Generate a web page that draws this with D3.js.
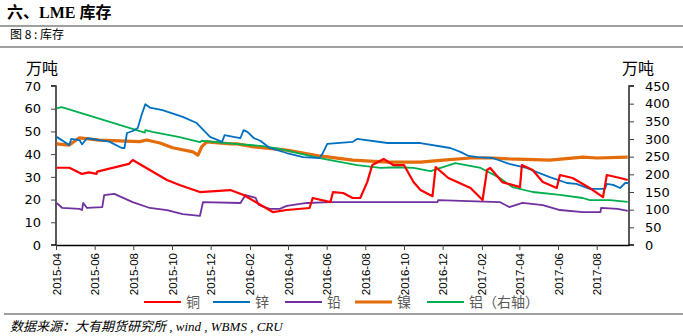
<!DOCTYPE html>
<html><head><meta charset="utf-8">
<script src="https://cdn.jsdelivr.net/npm/d3@7"></script>
<style>body{margin:0;background:#fff}svg{display:block}</style>
</head><body>
<svg id="c" width="683" height="336"></svg>
<script>
const leftTicks = [0,10,20,30,40,50,60,70];
const rightTicks = [0,50,100,150,200,250,300,350,400,450];
const xTickLabels = ["2015-04","2015-06","2015-08","2015-10","2015-12","2016-02","2016-04","2016-06","2016-08","2016-10","2016-12","2017-02","2017-04","2017-06","2017-08"];
const seriesNames = ["铜","锌","铅","镍","铝（右轴）"];

const copper = [["2015-04-02",34.0],["2015-04-22",34.0],["2015-05-12",31.3],["2015-05-23",32.0],["2015-06-04",31.3],["2015-06-05",32.3],["2015-07-25",35.7],["2015-07-31",37.4],["2015-08-27",33.0],["2015-09-23",28.6],["2015-10-13",26.4],["2015-11-14",23.3],["2016-01-01",24.2],["2016-01-22",22.0],["2016-02-18",17.6],["2016-03-08",14.5],["2016-03-30",15.4],["2016-05-05",16.3],["2016-05-10",20.7],["2016-06-07",18.9],["2016-06-11",23.3],["2016-06-27",22.9],["2016-07-12",20.7],["2016-07-24",20.7],["2016-08-04",27.7],["2016-08-12",35.2],["2016-08-30",37.9],["2016-09-14",35.2],["2016-10-01",35.2],["2016-10-16",27.7],["2016-10-27",24.2],["2016-11-15",21.5],["2016-11-20",34.3],["2016-12-10",29.5],["2017-01-14",25.1],["2017-02-02",19.8],["2017-02-09",33.0],["2017-02-14",33.9],["2017-03-05",27.7],["2017-04-02",25.5],["2017-04-05",35.2],["2017-04-22",33.0],["2017-05-08",27.7],["2017-05-30",25.1],["2017-06-04",30.8],["2017-06-24",29.5],["2017-07-21",25.1],["2017-08-11",21.1],["2017-08-17",30.8],["2017-09-07",29.5],["2017-09-19",28.6]];

const zinc = [["2015-04-02",47.6],["2015-04-22",44.0],["2015-04-25",46.7],["2015-05-08",46.2],["2015-05-12",44.3],["2015-05-20",47.0],["2015-06-24",45.5],["2015-07-13",42.8],["2015-07-18",42.7],["2015-07-22",49.3],["2015-07-31",50.2],["2015-08-08",51.5],["2015-08-14",57.2],["2015-08-20",62.0],["2015-08-27",60.5],["2015-09-16",59.4],["2015-10-18",56.4],["2015-11-09",53.7],["2015-11-30",47.6],["2015-12-19",45.4],["2015-12-23",48.4],["2016-01-06",47.6],["2016-01-17",47.1],["2016-01-22",50.6],["2016-01-28",49.8],["2016-02-07",47.1],["2016-02-18",45.8],["2016-03-03",42.7],["2016-03-30",40.5],["2016-04-25",38.7],["2016-05-21",38.3],["2016-05-26",40.5],["2016-06-02",44.5],["2016-07-12",45.4],["2016-07-19",46.7],["2016-09-05",44.9],["2016-10-27",44.9],["2016-12-13",42.7],["2016-12-29",41.0],["2017-01-11",39.2],["2017-01-25",38.7],["2017-02-18",38.3],["2017-03-16",35.7],["2017-04-12",33.9],["2017-05-19",29.9],["2017-06-15",27.3],["2017-06-30",26.9],["2017-07-21",24.7],["2017-08-14",24.7],["2017-08-17",26.9],["2017-08-27",26.5],["2017-09-07",25.1],["2017-09-15",27.3],["2017-09-20",27.3]];

const lead = [["2015-04-02",18.5],["2015-04-11",16.3],["2015-05-08",15.9],["2015-05-12",15.4],["2015-05-14",18.5],["2015-05-20",16.3],["2015-06-13",16.7],["2015-06-16",22.0],["2015-07-02",22.5],["2015-07-31",18.9],["2015-08-27",16.3],["2015-09-23",15.4],["2015-10-18",13.6],["2015-11-14",12.8],["2015-11-19",18.9],["2016-01-17",18.5],["2016-01-25",22.0],["2016-02-10",20.7],["2016-02-15",17.6],["2016-03-03",15.9],["2016-03-19",15.9],["2016-03-30",17.2],["2016-05-01",18.5],["2016-06-07",18.9],["2016-11-23",18.9],["2016-11-24",19.8],["2017-03-01",18.9],["2017-03-16",16.7],["2017-04-06",18.5],["2017-05-08",17.6],["2017-06-04",15.4],["2017-07-10",14.5],["2017-08-07",14.5],["2017-08-08",16.3],["2017-09-03",15.9],["2017-09-19",15.0]];

const nickel = [["2015-04-02",44.5],["2015-04-22",44.0],["2015-05-08",47.2],["2015-06-08",46.2],["2015-08-11",45.5],["2015-08-22",46.2],["2015-09-12",44.9],["2015-10-02",42.8],["2015-11-03",41.0],["2015-11-11",39.6],["2015-11-17",43.3],["2015-11-25",45.4],["2016-01-01",44.5],["2016-01-12",44.5],["2016-02-07",43.2],["2016-03-30",41.8],["2016-05-21",39.2],["2016-07-12",37.4],["2016-09-05",36.5],["2016-10-27",36.5],["2016-12-02",37.4],["2017-01-14",38.3],["2017-02-18",38.3],["2017-03-16",37.9],["2017-05-19",37.4],["2017-07-10",38.7],["2017-08-02",38.3],["2017-09-19",38.7]];

const aluminum = [["2015-04-02",387],["2015-04-10",390],["2015-08-19",318],["2015-08-20",325],["2015-08-31",320],["2015-10-13",305],["2015-11-14",291],["2015-11-17",295],["2015-12-20",289],["2016-02-22",280],["2016-03-19",272],["2016-05-21",246],["2016-07-19",226],["2016-08-25",218],["2016-09-21",220],["2016-10-16",218],["2016-11-12",209],["2016-12-21",232],["2017-01-30",218],["2017-03-01",190],["2017-03-21",164],["2017-04-22",150],["2017-06-04",142],["2017-07-10",133],["2017-07-21",127],["2017-08-22",127],["2017-09-19",122]];

const parse = d3.timeParse("%Y-%m-%d");
const svg = d3.select("#c");
const L = 56, R = 629, T = 86, B = 245;
const x = d3.scaleTime().domain([parse("2015-04-01"), parse("2017-09-21")]).range([L, R]);
const yL = d3.scaleLinear().domain([0,70]).range([B,T]);
const yR = d3.scaleLinear().domain([0,450]).range([B,T]);

// header
svg.append("text").attr("x",7).attr("y",18).attr("font-family","'Liberation Serif','Noto Sans CJK SC',serif").attr("font-weight","bold").attr("font-size",16).text("六、LME 库存");
svg.append("line").attr("x1",0).attr("x2",683).attr("y1",26).attr("y2",26).attr("stroke","#7f7f7f").attr("stroke-width",1.5);
svg.append("text").attr("x",10).attr("y",39).attr("font-family","'Noto Sans CJK SC',sans-serif").attr("font-size",12).text("图 8 : 库存");
svg.append("line").attr("x1",0).attr("x2",683).attr("y1",47).attr("y2",47).attr("stroke","#7f7f7f").attr("stroke-width",1.5);

// units
svg.append("text").attr("x",26).attr("y",74).attr("font-family","'Noto Sans CJK SC',sans-serif").attr("font-size",16).text("万吨");
svg.append("text").attr("x",622).attr("y",74).attr("font-family","'Noto Sans CJK SC',sans-serif").attr("font-size",16).text("万吨");

// axes
const axL = svg.append("g").attr("transform",`translate(${L},0)`).call(d3.axisLeft(yL).tickValues(leftTicks).tickSize(5).tickPadding(10));
const axR = svg.append("g").attr("transform",`translate(${R},0)`).call(d3.axisRight(yR).tickValues(rightTicks).tickSize(5).tickPadding(11));
const xTickDates = xTickLabels.map(s => parse(s + "-01"));
const axB = svg.append("g").attr("transform",`translate(0,${B})`).call(d3.axisBottom(x).tickValues(xTickDates).tickFormat(d3.timeFormat("%Y-%m")).tickSize(5).tickSizeOuter(0));
[axL, axR].forEach(a => {
  a.selectAll("text").attr("font-family","'DejaVu Sans',sans-serif").attr("font-size",13).attr("fill","#000");
  a.select(".domain").attr("stroke","#000").attr("stroke-width",1.3);
  a.selectAll(".tick line").attr("stroke","#444");
});
axL.select(".domain").attr("d", `M-5,${T}H0V${B}H-5`);
axR.select(".domain").attr("d", `M5,${T}H0V${B}H5`);
axB.select(".domain").attr("stroke","#000").attr("stroke-width",1.3);
axB.selectAll(".tick line").attr("stroke","#444");
axB.selectAll("text").attr("font-family","'Liberation Sans',Arial,sans-serif").attr("font-size",11.5).attr("fill","#000")
  .attr("transform","rotate(-90)").attr("text-anchor","end").attr("x",-8).attr("y",0).attr("dy","0.35em");

// series
const series = [
  {data: nickel, color:"#E46C0A", w:3.2, y:yL},
  {data: aluminum, color:"#00B050", w:1.8, y:yR},
  {data: lead, color:"#7030A0", w:1.8, y:yL},
  {data: zinc, color:"#0070C0", w:1.8, y:yL},
  {data: copper, color:"#FF0000", w:2.2, y:yL}
];
series.forEach(s => {
  const line = d3.line().x(d => x(parse(d[0]))).y(d => s.y(d[1]));
  svg.append("path").attr("d", line(s.data)).attr("fill","none").attr("stroke",s.color).attr("stroke-width",s.w).attr("stroke-linejoin","round");
});

// legend
const legendColors = ["#FF0000","#0070C0","#7030A0","#E46C0A","#00B050"];
const legendW = [2,2,2,3.2,2];
const legendX = [144,213,285,355,427];
seriesNames.forEach((n,i) => {
  svg.append("line").attr("x1",legendX[i]).attr("x2",legendX[i]+37).attr("y1",302).attr("y2",302).attr("stroke",legendColors[i]).attr("stroke-width",legendW[i]);
  svg.append("text").attr("x",legendX[i]+42).attr("y",307).attr("font-family","'Noto Sans CJK SC',sans-serif").attr("font-size",14).attr("fill","#595959").text(n);
});
svg.append("line").attr("x1",4).attr("x2",683).attr("y1",314).attr("y2",314).attr("stroke","#7f7f7f").attr("stroke-width",1.5);
svg.append("text").attr("x",10).attr("y",331).attr("font-family","'Liberation Serif','Noto Sans CJK SC',serif").attr("font-style","italic").attr("font-size",13).text("数据来源：大有期货研究所 , wind , WBMS , CRU");
</script>
</body></html>
